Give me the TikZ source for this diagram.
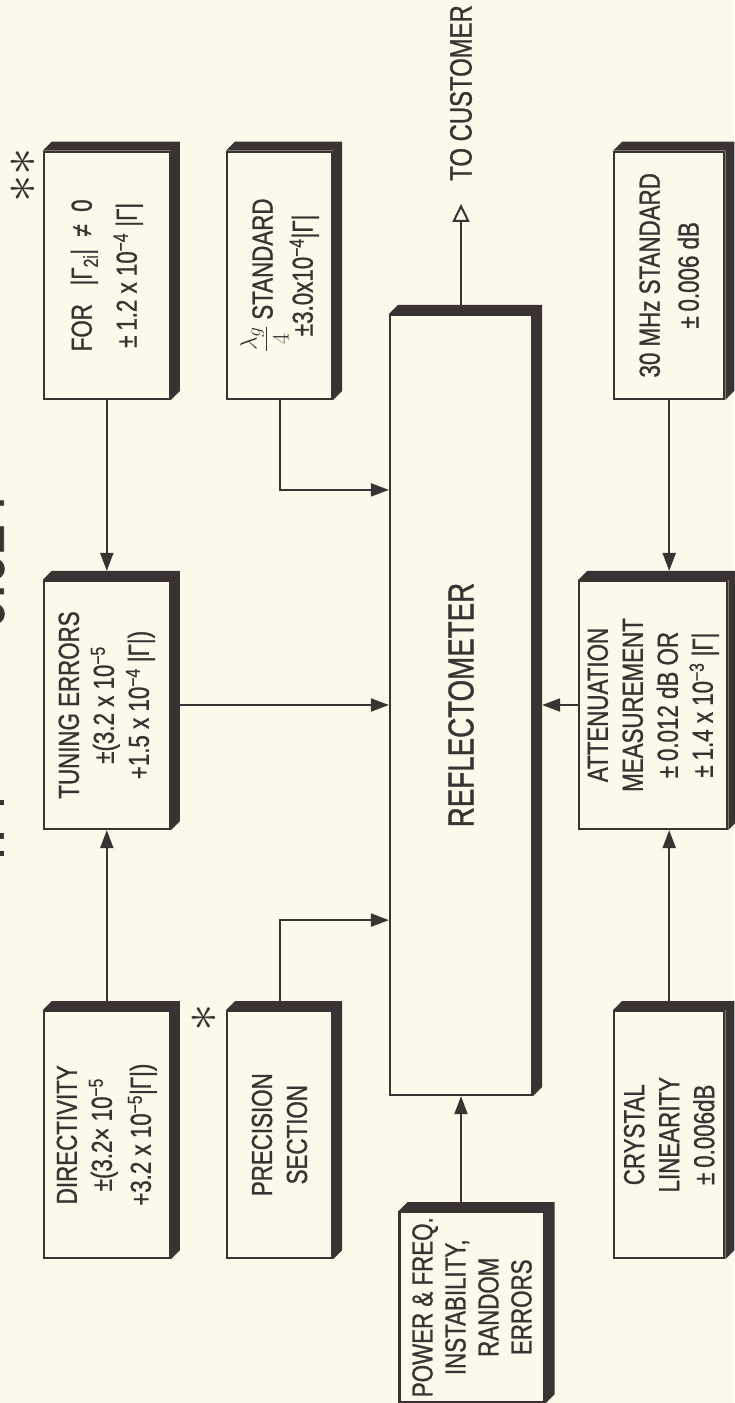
\documentclass[tikz,border=0pt]{standalone}
\usepackage{fontspec}
\setmainfont{Liberation Sans}[FakeStretch=0.77,FakeBold=1]
\usepackage{xcolor}
\definecolor{rflink}{HTML}{3B3333}
\definecolor{rflbg}{HTML}{FBF9EA}
\usepackage{tikz}
\usetikzlibrary{arrows.meta,positioning,calc,backgrounds}
\newcommand\rflsup[1]{\textsuperscript{#1}}
\newcommand\rflshade[1]{\fill[rflink] (#1.north east) -- ++(9,-9) |- ($(#1.south west)+(9,-9)$) -- (#1.south west) -- (#1.south east) -- cycle;}
\tikzset{
  rflbox/.style={draw=rflink,fill=rflbg,line width=2.2pt,inner sep=0pt,align=center,text=rflink,font=\fontsize{29pt}{35pt}\selectfont,minimum width=247pt},
  rflflow/.style={draw=rflink,line width=2pt,-{Triangle[length=18pt,width=13pt]}},
  rflout/.style={draw=rflink,line width=2pt,-{Triangle[open,length=18pt,width=17pt]}},
  rflbig/.style={text=rflink,font=\fontsize{36pt}{40pt}\selectfont},
  rflstar/.style={text=rflink,font=\Huge,inner sep=0pt},
}
\begin{document}
\begin{tikzpicture}[rotate=90,transform shape,x=1pt,y=1pt]
\useasboundingbox (-1403,-734) rectangle (0,0);
\node[rflbox,rflbig,minimum width=780pt,minimum height=142pt] (rf) at (-705,-461) {REFLECTOMETER};
\node[rflbox,minimum width=248pt,minimum height=126pt,above=218pt of rf] (tu) {TUNING ERRORS\\ ±(3.2 x 10\rflsup{−5}\\ +1.5 x 10\rflsup{−4} |Γ|)};
\node[rflbox,minimum height=126pt,right=180pt of tu] (fo) {FOR\ \ \ |Γ\textsubscript{2i}|\ \ ≠\ \ 0\\[10pt] ±\,1.2 x 10\rflsup{−4} |Γ|};
\node[rflbox,minimum height=126pt,left=180pt of tu] (di) {DIRECTIVITY\\ ±(3.2× 10\rflsup{−5}\\[4pt] +3.2 x 10\rflsup{−5}|Γ|)};
\node[rflbox,minimum height=105pt,below=55pt of fo] (lg) {\scalebox{0.95}{$\displaystyle\frac{\lambda_g}{4}$} STANDARD\\ ±3.0x10\rflsup{−4}|Γ|};
\node[rflbox,minimum height=105pt,below=55pt of di] (pr) {PRECISION\\ SECTION};
\node[rflbox,minimum height=110pt,below=280pt of lg] (mz) {30 MHz STANDARD\\[4pt] ±\,0.006 dB};
\node[rflbox,minimum height=110pt,below=280pt of pr] (cr) {CRYSTAL\\ LINEARITY\\ ±\,0.006dB};
\node[rflbox,minimum width=248pt,minimum height=148pt,below=45pt of rf] (att) {ATTENUATION\\ MEASUREMENT\\ ±\,0.012 dB OR\\ ±\,1.4 x 10\rflsup{−3} |Γ|};
\node[rflbox,minimum width=190pt,minimum height=145pt,font=\fontsize{29pt}{33pt}\selectfont,left=115pt of rf,yshift=-11pt] (pf) {POWER \& FREQ.\\ INSTABILITY,\\ RANDOM\\ ERRORS};
\node[rflbig,font=\fontsize{31pt}{36pt}\selectfont,inner sep=0pt,inner xsep=23pt,right=110pt of rf] (tc) {TO CUSTOMER};
\node[rflstar] (s2) at (-175,-24) {\scalebox{2.2}{$\ast\ast$}};
\node[rflstar] (s1) at (-1018,-205) {\scalebox{2.2}{$\ast$}};
\node[text=rflink,font=\fontsize{70pt}{70pt}\selectfont,inner sep=0pt] (gm) at (-675,22) {\rule{5pt}{52pt}\hspace{8pt}Γ\hspace{8pt}\rule{5pt}{52pt}\hspace{80pt}<\hspace{60pt}0.024};
\foreach \n in {rf,tu,fo,di,lg,pr,mz,cr,att,pf} \rflshade{\n};
\begin{scope}[on background layer]
\fill[rflbg] (-1403,-734) rectangle (0,0);
\draw[rflflow] (di) -- (tu);
\draw[rflflow,shorten >=9pt] (fo) -- (tu);
\draw[rflflow] (tu) -- (rf);
\draw[rflflow] (lg) -| ($(rf.north west)!0.775!(rf.north east)$);
\draw[rflflow] (pr) -| ($(rf.north west)!0.225!(rf.north east)$);
\draw[rflflow] (pf.east |- rf.west) -- (rf.west);
\draw[rflflow,shorten >=9pt] (mz) -- (mz -| att.east);
\draw[rflflow] (cr) -- (cr -| att.west);
\draw[rflflow,shorten >=9pt] (att) -- (rf);
\draw[rflout] (rf) -- (tc);
\end{scope}
\end{tikzpicture}
\end{document}
